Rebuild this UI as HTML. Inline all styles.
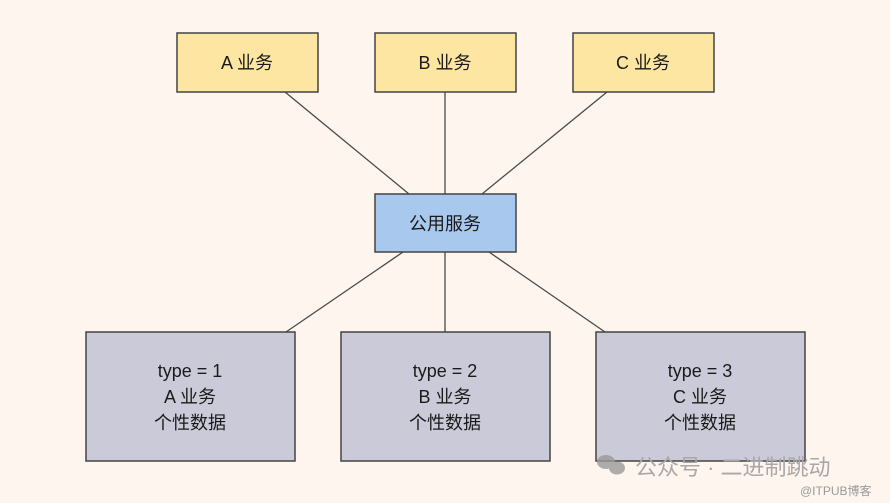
<!DOCTYPE html>
<html><head><meta charset="utf-8"><style>
body{margin:0;width:890px;height:503px;background:#fdf5ee;overflow:hidden;font-family:"Liberation Sans","Noto Sans CJK SC",sans-serif;}
</style></head><body>
<svg width="890" height="503" xmlns="http://www.w3.org/2000/svg" style="position:absolute;left:0;top:0">
<g stroke="#4a4a4a" stroke-width="1.3">
<line x1="285" y1="92" x2="409" y2="194"/>
<line x1="445" y1="92" x2="445" y2="194"/>
<line x1="607" y1="92" x2="482" y2="194"/>
<line x1="403" y1="252" x2="286" y2="332"/>
<line x1="445" y1="252" x2="445" y2="332"/>
<line x1="489" y1="252" x2="605" y2="332"/>
</g>
<g stroke="#444" stroke-width="1.5">
<rect x="177" y="33" width="141" height="59" fill="#fde6a2"/>
<rect x="375" y="33" width="141" height="59" fill="#fde6a2"/>
<rect x="573" y="33" width="141" height="59" fill="#fde6a2"/>
<rect x="375" y="194" width="141" height="58" fill="#a8c8ee"/>
<rect x="86" y="332" width="209" height="129" fill="#cbcad9"/>
<rect x="341" y="332" width="209" height="129" fill="#cbcad9"/>
<rect x="596" y="332" width="209" height="129" fill="#cbcad9"/>
</g>
<g font-size="18" fill="#1a1a1a" text-anchor="middle" font-family="Liberation Sans,Noto Sans CJK SC,sans-serif">
<text x="247" y="69">A 业务</text>
<text x="445" y="69">B 业务</text>
<text x="643" y="69">C 业务</text>
<text x="445" y="230">公用服务</text>
<text x="190" y="377">type = 1</text><text x="190" y="403">A 业务</text><text x="190" y="429">个性数据</text>
<text x="445" y="377">type = 2</text><text x="445" y="403">B 业务</text><text x="445" y="429">个性数据</text>
<text x="700" y="377">type = 3</text><text x="700" y="403">C 业务</text><text x="700" y="429">个性数据</text>
</g>
<g fill="#9a9a9a" opacity="0.8">
<ellipse cx="606" cy="462" rx="9" ry="7"/>
<ellipse cx="617" cy="468" rx="8" ry="6.5"/>
</g>
<text x="635" y="475" font-size="22" fill="#a8a8a8" font-family="Liberation Sans,Noto Sans CJK SC,sans-serif">公众号 · 二进制跳动</text>
<text x="800" y="495" font-size="12" fill="#9a9a9a" font-family="Liberation Sans,Noto Sans CJK SC,sans-serif">@ITPUB博客</text>
</svg>
</body></html>
